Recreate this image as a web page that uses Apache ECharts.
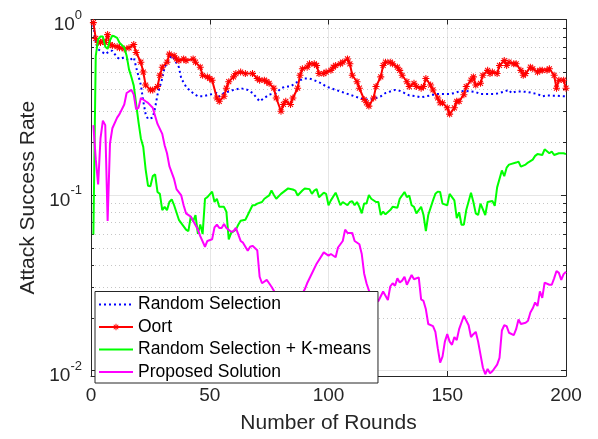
<!DOCTYPE html>
<html>
<head>
<meta charset="utf-8">
<script src="https://cdn.jsdelivr.net/npm/echarts@6/dist/echarts.min.js"></script>
<style>
  html, body { margin: 0; padding: 0; background: #ffffff; }
  #chart { width: 598px; height: 439px; }
</style>
</head>
<body>
<div id="chart"></div>
<script>
// Series names, in legend order
const seriesNames = ['Random Selection', 'Oort', 'Random Selection + K-means', 'Proposed Solution'];

// Axis ranges and ticks
const roundRange = [0, 200];
const roundTicks = 50;
const rateRange = [0.0093, 1];
const rateMinorTicks = [0.02, 0.03, 0.04, 0.05, 0.06, 0.07, 0.08, 0.09,
                        0.2, 0.3, 0.4, 0.5, 0.6, 0.7, 0.8, 0.9];

// [round, attack success rate]
const randomSelection = [
  [1,0.93],[2,0.74],[3,0.677],[5,0.649],[6,0.635],[8,0.663],[9,0.663],[11,0.608],[12,0.596],[14,0.608],
  [15,0.596],[16,0.583],[18,0.608],[19,0.535],[21,0.423],[22,0.342],[23,0.289],[24,0.271],[26,0.276],[27,0.314],
  [28,0.373],[30,0.461],[31,0.535],[33,0.596],[34,0.622],[35,0.596],[37,0.535],[38,0.461],[40,0.415],[42,0.389],
  [45,0.365],[47,0.365],[50,0.373],[53,0.381],[54,0.365],[56,0.381],[58,0.389],[60,0.397],[63,0.406],[66,0.397],
  [68,0.381],[71,0.342],[73,0.357],[75,0.373],[78,0.381],[80,0.406],[82,0.415],[84,0.415],[86,0.433],[88,0.451],
  [90,0.461],[92,0.461],[94,0.451],[97,0.433],[99,0.415],[101,0.406],[103,0.397],[105,0.389],[107,0.381],[109,0.373],
  [111,0.365],[113,0.357],[115,0.35],[118,0.35],[120,0.357],[122,0.365],[124,0.381],[126,0.389],[128,0.397],[130,0.392],
  [132,0.381],[134,0.369],[137,0.365],[139,0.36],[141,0.365],[143,0.369],[145,0.376],[147,0.376],[149,0.376],[151,0.376],
  [153,0.381],[155,0.389],[158,0.392],[160,0.389],[162,0.386],[164,0.376],[166,0.376],[168,0.376],[170,0.376],[172,0.381],
  [174,0.389],[176,0.397],[177,0.381],[179,0.389],[181,0.389],[184,0.386],[186,0.381],[188,0.376],[190,0.365],[192,0.369],
  [194,0.368],[196,0.368],[198,0.366],[200,0.365]
];

const oort = [
  [1,0.96],[2,0.78],[3,0.74],[4,0.74],[5,0.75],[6,0.74],[7,0.82],[8,0.72],[9,0.71],[11,0.70],
  [12,0.69],[14,0.68],[16,0.69],[18,0.72],[19,0.649],[21,0.571],[22,0.502],[23,0.423],[25,0.397],[26,0.397],
  [28,0.415],[29,0.481],[30,0.535],[32,0.571],[33,0.635],[35,0.622],[36,0.596],[37,0.583],[39,0.596],[40,0.583],
  [43,0.596],[44,0.571],[46,0.535],[47,0.481],[49,0.471],[50,0.461],[51,0.451],[53,0.357],[54,0.342],[56,0.365],
  [57,0.406],[58,0.442],[60,0.471],[61,0.492],[63,0.502],[65,0.492],[68,0.492],[70,0.461],[71,0.451],[73,0.451],
  [74,0.442],[75,0.433],[77,0.406],[78,0.357],[80,0.30],[81,0.328],[82,0.342],[84,0.328],[85,0.357],[87,0.406],
  [88,0.481],[89,0.524],[91,0.535],[92,0.559],[94,0.559],[95,0.547],[96,0.492],[98,0.492],[99,0.502],[101,0.513],
  [102,0.535],[103,0.547],[105,0.559],[106,0.571],[108,0.596],[109,0.559],[110,0.481],[112,0.442],[113,0.406],[115,0.35],
  [116,0.335],[117,0.321],[119,0.357],[120,0.415],[122,0.471],[123,0.547],[124,0.571],[126,0.571],[127,0.559],[129,0.535],
  [130,0.513],[131,0.481],[133,0.442],[134,0.415],[136,0.433],[137,0.415],[139,0.406],[140,0.415],[141,0.461],[143,0.423],
  [144,0.397],[146,0.357],[147,0.335],[148,0.335],[150,0.314],[151,0.289],[153,0.314],[154,0.342],[155,0.342],[157,0.373],
  [158,0.415],[160,0.451],[161,0.471],[162,0.423],[164,0.433],[165,0.481],[167,0.513],[168,0.492],[169,0.502],[171,0.492],
  [172,0.547],[174,0.583],[175,0.547],[176,0.571],[178,0.559],[179,0.559],[181,0.513],[182,0.481],[183,0.492],[185,0.535],
  [186,0.524],[188,0.502],[189,0.513],[190,0.513],[192,0.513],[193,0.524],[195,0.481],[196,0.406],[197,0.451],[199,0.451],
  [200,0.406]
];

const randomKMeans = [
  [1,0.0596],[2,0.62],[3,0.77],[4,0.80],[5,0.80],[6,0.70],[7,0.68],[8,0.76],[9,0.81],[10,0.80],
  [11,0.786],[12,0.737],[14,0.692],[15,0.622],[16,0.52],[17,0.47],[18,0.42],[19,0.33],[20,0.26],[21,0.21],
  [22,0.188],[23,0.14],[24,0.113],[25,0.112],[26,0.128],[27,0.131],[28,0.104],[29,0.1015],[30,0.082],[31,0.0856],
  [32,0.082],[33,0.0912],[34,0.0945],[35,0.0874],[37,0.0722],[38,0.0692],[40,0.0635],[41,0.0622],[42,0.0753],[43,0.0707],
  [44,0.0769],[45,0.060],[46,0.068],[47,0.060],[48,0.0952],[49,0.0972],[51,0.1045],[52,0.0912],[53,0.0952],[54,0.0856],
  [56,0.0856],[57,0.0803],[58,0.0559],[59,0.0608],[61,0.0635],[62,0.0677],[63,0.0713],[65,0.0722],[66,0.0769],[68,0.0874],
  [69,0.0874],[70,0.0893],[72,0.0912],[73,0.0952],[75,0.0994],[76,0.106],[77,0.100],[78,0.0952],[80,0.1015],[83,0.109],
  [85,0.1075],[86,0.106],[87,0.0994],[89,0.106],[90,0.109],[92,0.108],[93,0.1015],[94,0.106],[95,0.108],[96,0.0972],
  [98,0.103],[99,0.1015],[100,0.0874],[101,0.0932],[103,0.103],[104,0.0952],[105,0.0874],[106,0.0912],[108,0.0874],[109,0.0912],
  [110,0.0922],[111,0.0874],[112,0.0912],[113,0.0856],[114,0.0786],[115,0.0893],[116,0.0893],[117,0.100],[118,0.0952],[120,0.0912],
  [121,0.0912],[122,0.0769],[123,0.0803],[124,0.0776],[126,0.082],[127,0.0856],[129,0.0845],[130,0.0952],[131,0.0994],[132,0.104],
  [133,0.0972],[134,0.0994],[135,0.0874],[136,0.0856],[137,0.0786],[139,0.0856],[140,0.0769],[141,0.0622],[142,0.0769],[144,0.0932],
  [145,0.1015],[146,0.1045],[147,0.104],[148,0.0893],[150,0.0874],[151,0.1015],[153,0.0932],[154,0.0737],[155,0.0797],[156,0.0677],
  [157,0.0677],[158,0.082],[160,0.103],[161,0.0912],[162,0.0786],[163,0.0769],[164,0.0893],[166,0.0769],[167,0.0912],[169,0.0925],
  [170,0.0868],[171,0.1105],[173,0.138],[174,0.128],[175,0.143],[176,0.149],[179,0.153],[180,0.155],[181,0.145],[183,0.149],
  [184,0.153],[186,0.159],[187,0.167],[188,0.171],[190,0.169],[191,0.182],[193,0.173],[194,0.177],[195,0.169],[197,0.173],
  [199,0.173],[200,0.171]
];

const proposedSolution = [
  [1,0.25],[2,0.16],[3,0.115],[4,0.21],[5,0.265],[6,0.25],[7,0.071],[8,0.197],[9,0.24],[11,0.276],
  [12,0.289],[14,0.328],[15,0.381],[16,0.389],[17,0.397],[18,0.373],[19,0.308],[20,0.314],[21,0.357],[23,0.342],
  [24,0.335],[26,0.314],[27,0.282],[28,0.254],[30,0.223],[31,0.192],[32,0.173],[33,0.146],[35,0.123],[36,0.108],
  [38,0.0994],[39,0.0874],[40,0.0786],[42,0.0753],[43,0.0713],[45,0.0635],[46,0.0583],[48,0.0507],[49,0.0547],[51,0.0559],
  [52,0.0654],[53,0.0677],[54,0.0649],[55,0.0649],[56,0.0684],[57,0.0649],[59,0.0617],[60,0.0622],[61,0.0649],[63,0.0547],
  [64,0.0535],[66,0.0481],[67,0.0507],[68,0.0513],[70,0.0485],[71,0.0342],[72,0.0314],[74,0.0328],[75,0.0314],[76,0.030],
  [78,0.027],[80,0.025],[82,0.023],[84,0.022],[86,0.023],[88,0.026],[90,0.029],[91,0.0314],[93,0.0357],[95,0.0406],
  [98,0.0471],[100,0.0451],[101,0.0461],[103,0.0442],[104,0.0502],[106,0.0547],[107,0.0635],[108,0.0608],[110,0.0608],[111,0.0547],
  [113,0.0524],[114,0.0461],[115,0.0357],[116,0.0314],[118,0.026],[119,0.024],[121,0.0249],[123,0.0282],[125,0.0252],[126,0.0301],
  [127,0.0314],[128,0.0304],[129,0.0335],[130,0.0317],[131,0.0325],[132,0.0342],[133,0.0308],[135,0.035],[136,0.0331],[138,0.0339],
  [139,0.0254],[140,0.0249],[141,0.0223],[142,0.0184],[144,0.0179],[145,0.0166],[146,0.0134],[147,0.0111],[148,0.012],[149,0.0146],
  [150,0.0161],[151,0.0146],[152,0.014],[153,0.0155],[154,0.0149],[155,0.0172],[157,0.0205],[159,0.0181],[160,0.0155],[161,0.0161],
  [162,0.0166],[163,0.0146],[164,0.0123],[165,0.0104],[166,0.00952],[167,0.0102],[168,0.00963],[169,0.0099],[171,0.0108],[172,0.0118],
  [173,0.0169],[174,0.0181],[175,0.0179],[176,0.0164],[178,0.0159],[179,0.0172],[180,0.0195],[181,0.0184],[183,0.0187],[184,0.0192],
  [185,0.0214],[186,0.0226],[187,0.0244],[188,0.0233],[189,0.0282],[190,0.0259],[191,0.0317],[193,0.0308],[194,0.0308],[195,0.0335],
  [196,0.0369],[197,0.036],[198,0.0328],[199,0.0354],[200,0.0365]
];

const FONT = '"Liberation Sans", Arial, Helvetica, sans-serif';
const AXIS = '#262626';
const GRID_MAJOR = '#e6e6e6';
const GRID_MINOR = '#c6c6c6';

// Eight-armed asterisk marker
const ASTERISK = 'path://M0 8.5H20V11.5H0Z M8.5 0H11.5V20H8.5Z ' +
  'M3.96 1.84L18.16 16.04L16.04 18.16L1.84 3.96Z M16.04 1.84L18.16 3.96L3.96 18.16L1.84 16.04Z';

// Powers of ten written as 10 with a raised exponent
function powerLabel(value) {
  const e = Math.log10(value);
  const r = Math.round(e);
  if (Math.abs(e - r) > 1e-6) return '';
  return '{base|10}{sup|' + r + '}';
}

const chart = echarts.init(document.getElementById('chart'), null, { renderer: 'canvas' });

const boxAxisX = {
  type: 'value', min: roundRange[0], max: roundRange[1], interval: roundTicks,
  axisLine: { show: true, onZero: false, lineStyle: { color: AXIS, width: 1 } },
  axisTick: { show: true, inside: true, length: 5, lineStyle: { color: AXIS, width: 1 } }
};
const boxAxisY = {
  type: 'log', logBase: 10, min: rateRange[0], max: rateRange[1],
  axisLine: { show: true, onZero: false, lineStyle: { color: AXIS, width: 1 } },
  axisTick: { show: true, inside: true, length: 5, lineStyle: { color: AXIS, width: 1 } }
};

// Legend entries: only Oort shows its marker
const legendEntries = seriesNames.map(function (name, i) {
  return i === 1 ? { name: name } : { name: name, itemStyle: { opacity: 0 } };
});

const option = {
  animation: false,
  backgroundColor: '#ffffff',
  textStyle: { fontFamily: FONT },
  grid: { left: 91, top: 19.5, width: 475, height: 365.5, containLabel: false },
  xAxis: [
    Object.assign({}, boxAxisX, {
      position: 'bottom',
      name: 'Number of Rounds', nameLocation: 'middle', nameGap: 37,
      nameTextStyle: { fontSize: 21, color: AXIS, fontFamily: FONT },
      axisLabel: { fontSize: 19, color: AXIS, margin: 10, fontFamily: FONT },
      splitLine: { show: true, lineStyle: { color: GRID_MAJOR, width: 1 } }
    }),
    Object.assign({}, boxAxisX, {
      position: 'top',
      axisLabel: { show: false },
      splitLine: { show: false }
    })
  ],
  yAxis: [
    Object.assign({}, boxAxisY, {
      position: 'left',
      name: 'Attack Success Rate', nameLocation: 'middle', nameGap: 46, nameRotate: 90,
      nameTextStyle: { fontSize: 21, color: AXIS, fontFamily: FONT },
      axisLabel: {
        formatter: powerLabel, margin: 9, showMinLabel: false,
        rich: {
          base: { fontSize: 19, color: AXIS, fontFamily: FONT, lineHeight: 30, verticalAlign: 'bottom' },
          sup: { fontSize: 13, color: AXIS, fontFamily: FONT, lineHeight: 30, verticalAlign: 'top', padding: [4, 0, 0, 0] }
        }
      },
      splitLine: { show: true, lineStyle: { color: GRID_MAJOR, width: 1 } }
    }),
    Object.assign({}, boxAxisY, {
      position: 'right',
      axisLabel: { show: false },
      splitLine: { show: false }
    })
  ],
  legend: {
    orient: 'vertical', left: 95, top: 291.5, z: 20,
    data: legendEntries,
    backgroundColor: '#ffffff', borderColor: AXIS, borderWidth: 1,
    padding: [4, 7, 2, 3], itemGap: 4.5, itemWidth: 34, itemHeight: 8,
    textStyle: { fontSize: 17.5, color: '#000000', fontFamily: FONT },
    selectedMode: false
  },
  series: [
    {
      // dotted minor grid lines with short minor ticks on both vertical edges
      type: 'custom', name: 'minor grid', silent: true, z: 1,
      xAxisIndex: 0, yAxisIndex: 0,
      data: rateMinorTicks.map(v => [roundRange[0], v]),
      renderItem: function (params, api) {
        const v = api.value(1);
        const a = api.coord([roundRange[0], v]);
        const b = api.coord([roundRange[1], v]);
        const y = Math.round(a[1]) + 0.5;
        return {
          type: 'group',
          children: [
            { type: 'line', shape: { x1: a[0], y1: y, x2: b[0], y2: y },
              style: { stroke: GRID_MINOR, lineWidth: 1, lineDash: [1, 3] } },
            { type: 'line', shape: { x1: a[0], y1: y, x2: a[0] + 3, y2: y },
              style: { stroke: AXIS, lineWidth: 1 } },
            { type: 'line', shape: { x1: b[0] - 3, y1: y, x2: b[0], y2: y },
              style: { stroke: AXIS, lineWidth: 1 } }
          ]
        };
      }
    },
    {
      name: seriesNames[0], type: 'line', data: randomSelection, z: 2,
      symbol: 'none', color: '#0000ff',
      lineStyle: { color: '#0000ff', width: 2, type: [2, 3] }
    },
    {
      name: seriesNames[1], type: 'line', data: oort, z: 3,
      symbol: ASTERISK, symbolSize: 7, showSymbol: true, color: '#ff0000',
      itemStyle: { color: '#ff0000', borderWidth: 0 },
      lineStyle: { color: '#ff0000', width: 2 }
    },
    {
      name: seriesNames[2], type: 'line', data: randomKMeans, z: 4,
      symbol: 'none', color: '#00ff00',
      lineStyle: { color: '#00ff00', width: 2 }
    },
    {
      name: seriesNames[3], type: 'line', data: proposedSolution, z: 5,
      symbol: 'none', color: '#ff00ff',
      lineStyle: { color: '#ff00ff', width: 2 }
    }
  ]
};

chart.setOption(option);
</script>
</body>
</html>
